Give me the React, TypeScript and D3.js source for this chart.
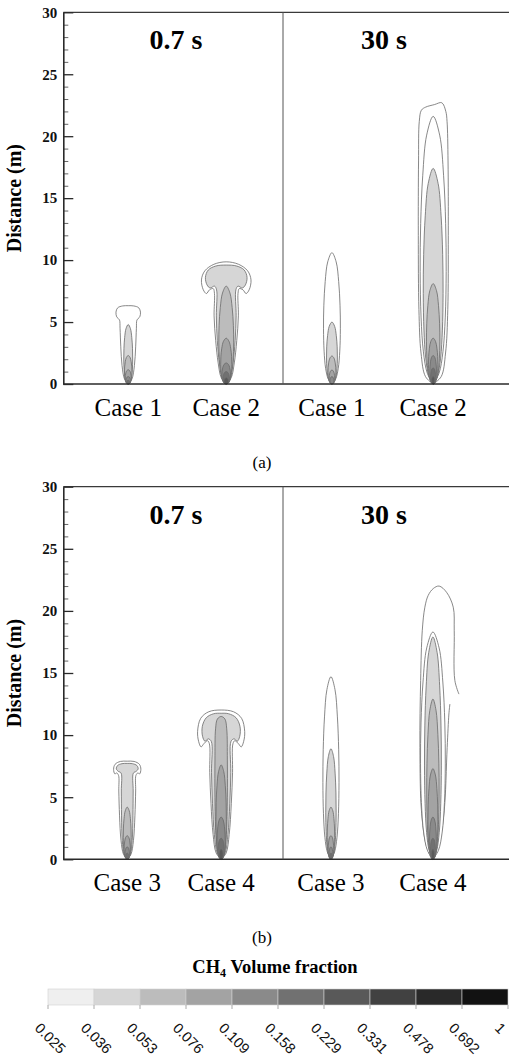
import React, { useRef, useEffect } from 'react';
import * as d3 from 'd3';

// contour levels of the colour bar and their greys
const levels = [0.025, 0.036, 0.053, 0.076, 0.109, 0.158, 0.229, 0.331, 0.478, 0.692, 1];
const levelGrays = ['#efefef', '#d6d6d6', '#bcbcbc', '#a3a3a3', '#8a8a8a', '#717171', '#595959', '#414141', '#292929', '#121212'];

const timeLabels = ['0.7 s', '30 s'];
const panelTags = ['(a)', '(b)'];
const panelCases = [['Case 1', 'Case 2'], ['Case 3', 'Case 4']];
// source location (m from the left edge of each half)
const caseXEarly = [[5.24, 13.15], [5.16, 12.74]];
const caseXLate = [[3.95, 12.12], [3.87, 12.1]];

// normalised shape of an inner contour, [x / halfWidth, y / top]
const coreProfile = [[0, 0], [0.45, 0.04], [0.75, 0.12], [0.93, 0.25], [1, 0.42], [0.96, 0.6], [0.8, 0.78], [0.5, 0.93], [0, 1]];

// mushroom caps at 0.7 s, right half [x m, y m] from source to top
const case1EarlyCap = [[0, 0], [0.3, 0.4], [0.5, 1.5], [0.6, 3], [0.66, 4.5], [0.7, 5.15], [0.82, 5.3], [0.93, 5.42], [0.99, 5.8], [0.85, 6.15], [0.45, 6.3], [0, 6.32]];
const case1EarlyCores = [[4.8, 0.36], [2.3, 0.3], [1.15, 0.24], [0.6, 0.18], [0.3, 0.12]];

const case2EarlyCap = [[0, 0], [0.4, 0.5], [0.65, 1.7], [0.85, 3.5], [0.98, 5.5], [0.95, 7.3], [1.05, 7.7], [1.35, 7.6], [1.6, 7.3], [1.85, 7.6], [2.0, 8.4], [1.73, 9.13], [1.0, 9.66], [0, 9.86]];
const case2EarlyCapInner = [[0, 0], [0.3, 0.5], [0.55, 1.7], [0.72, 3.5], [0.8, 5.5], [0.78, 7.6], [0.95, 7.9], [1.3, 7.75], [1.55, 8.0], [1.68, 8.6], [1.45, 9.2], [0.85, 9.52], [0, 9.6]];
const case2EarlyCores = [[7.9, 0.6], [3.7, 0.45], [1.7, 0.35], [1.0, 0.26], [0.5, 0.18]];

const case3EarlyCap = [[0, 0], [0.3, 0.4], [0.5, 1.5], [0.62, 3.5], [0.68, 5.5], [0.7, 6.75], [0.85, 6.95], [1.0, 6.88], [1.1, 7.25], [0.98, 7.65], [0.55, 7.88], [0, 7.9]];
const case3EarlyCapInner = [[0, 0], [0.25, 0.4], [0.4, 1.5], [0.46, 3.5], [0.48, 5.5], [0.5, 6.95], [0.72, 7.08], [0.88, 7.28], [0.78, 7.55], [0.42, 7.7], [0, 7.72]];
const case3EarlyCores = [[4.2, 0.32], [1.9, 0.25], [1.0, 0.18], [0.5, 0.12]];

const case4EarlyCap = [[0, 0], [0.4, 0.5], [0.65, 2], [0.82, 4.5], [0.92, 7], [0.95, 9.3], [1.1, 9.55], [1.4, 9.3], [1.62, 9.05], [1.82, 9.5], [1.9, 10.3], [1.65, 11.35], [1.0, 11.88], [0, 12.02]];
const case4EarlyCapInner = [[0, 0], [0.32, 0.5], [0.55, 2], [0.7, 4.5], [0.78, 7], [0.8, 9.5], [1.05, 9.7], [1.3, 9.5], [1.5, 9.9], [1.52, 10.7], [1.2, 11.4], [0.6, 11.72], [0, 11.76]];
const case4EarlyColumn = [[0, 0], [0.25, 0.5], [0.42, 2], [0.5, 5], [0.5, 8], [0.45, 10.5], [0.3, 11.3], [0, 11.5]];
const case4EarlyCores = [[7.6, 0.42], [3.4, 0.33], [1.7, 0.25], [0.8, 0.16]];

// 30 s plumes
const case1LateCores = [[10.6, 0.68], [5.0, 0.44], [2.26, 0.32], [1.13, 0.22], [0.6, 0.15]];
const case2LateOuter = [[0, 0], [0.65, 0.6], [1.0, 2.5], [1.18, 6], [1.22, 12], [1.2, 18], [1.12, 21.2], [1.02, 22.0], [0.7, 22.7], [0.1, 22.55], [-0.6, 22.35], [-0.95, 22.1], [-1.12, 21.2], [-1.18, 18], [-1.2, 12], [-1.15, 6], [-0.98, 2.5], [-0.62, 0.6], [0, 0]];
const case2LateCores = [[21.6, 1.05], [17.4, 0.8], [8.1, 0.54], [3.7, 0.38], [2.3, 0.27], [1.3, 0.2], [0.6, 0.13]];
const case3LateCores = [[14.7, 0.65], [8.9, 0.42], [4.2, 0.3], [1.9, 0.22], [1.0, 0.15], [0.5, 0.1]];
const case4LateOuter = [[2.1, 13.3], [1.77, 14.4], [1.72, 18.4], [1.64, 20.3], [1.1, 21.5], [0.5, 22.0], [0.03, 21.8], [-0.38, 21.25], [-0.65, 20.3], [-0.86, 18.4], [-0.99, 14.4], [-1.05, 9.0], [-0.91, 3.7], [-0.5, 1.0], [0, 0], [0.43, 1.0], [0.89, 3.7], [1.15, 9.0], [1.29, 11.7], [1.37, 12.5]];
const case4LateCores = [[18.3, 1.0], [17.9, 0.68], [12.9, 0.5], [7.3, 0.4], [3.4, 0.28], [1.7, 0.2], [0.8, 0.13]];

const mirror = (half) => half.concat(half.slice(0, -1).reverse().map(([x, y]) => [-x, y]));

// outlines take levels 0.., cores start at coreFrom
const plumes = [
    { panel: 0, half: 0, c: 0, outlines: [mirror(case1EarlyCap)], cores: case1EarlyCores, coreFrom: 1 },
    { panel: 0, half: 0, c: 1, outlines: [mirror(case2EarlyCap), mirror(case2EarlyCapInner)], cores: case2EarlyCores, coreFrom: 2 },
    { panel: 0, half: 1, c: 0, outlines: [], cores: case1LateCores, coreFrom: 0 },
    { panel: 0, half: 1, c: 1, outlines: [case2LateOuter], cores: case2LateCores, coreFrom: 0 },
    { panel: 1, half: 0, c: 0, outlines: [mirror(case3EarlyCap), mirror(case3EarlyCapInner)], cores: case3EarlyCores, coreFrom: 2 },
    { panel: 1, half: 0, c: 1, outlines: [mirror(case4EarlyCap), mirror(case4EarlyCapInner), mirror(case4EarlyColumn)], cores: case4EarlyCores, coreFrom: 3 },
    { panel: 1, half: 1, c: 0, outlines: [], cores: case3LateCores, coreFrom: 0 },
    { panel: 1, half: 1, c: 1, outlines: [case4LateOuter], cores: case4LateCores, coreFrom: 0, open: true },
];

const W = 509;
const H = 1062;
const serif = '"Liberation Serif", serif';

const App = () => {
    const ref = useRef(null);

    useEffect(() => {
        const svg = d3.select(ref.current);
        svg.selectAll('*').remove();

        const left = 63.3;
        const divider = 283;
        const right = 515;
        const panelTop = [12.3, 486.7];
        const panelBase = [384, 859.3];
        const pxPerM = (panelBase[0] - panelTop[0]) / 30;

        const line = d3.line().curve(d3.curveCatmullRom.alpha(0.5));

        panelTop.forEach((top, p) => {
            const base = panelBase[p];
            const y = d3.scaleLinear().domain([0, 30]).range([base, top]);
            const halves = [left, divider].map(x0 =>
                d3.scaleLinear().domain([0, 220 / pxPerM]).range([x0, x0 + 220]));
            const g = svg.append('g');

            // plumes
            plumes.filter(d => d.panel === p).forEach(pl => {
                const xs = halves[pl.half];
                const cx = (pl.half === 0 ? caseXEarly : caseXLate)[p][pl.c];
                const toPx = pts => pts.map(([px, py]) => [xs(cx + px), y(py)]);
                const drawn = [];
                pl.outlines.forEach((pts, i) => drawn.push({ pts, level: i, open: pl.open && i === 0 }));
                pl.cores.forEach(([t, w], i) => drawn.push({
                    pts: mirror(coreProfile.map(([fx, fy]) => [fx * w, fy * t])),
                    level: pl.coreFrom + i,
                }));
                drawn.forEach(d => {
                    g.append('path')
                        .attr('d', line(toPx(d.pts)) + (d.open ? '' : 'Z'))
                        .attr('fill', d.level === 0 ? '#ffffff' : levelGrays[d.level])
                        .attr('stroke', '#6a6a6a')
                        .attr('stroke-width', 0.8);
                });
            });

            // frame
            g.append('line').attr('x1', left).attr('x2', right).attr('y1', top).attr('y2', top)
                .attr('stroke', '#3a3a3a').attr('stroke-width', 1.3);
            g.append('line').attr('x1', left).attr('x2', right).attr('y1', base).attr('y2', base)
                .attr('stroke', '#2a2a2a').attr('stroke-width', 1.6);
            g.append('line').attr('x1', divider).attr('x2', divider).attr('y1', top).attr('y2', base)
                .attr('stroke', '#555').attr('stroke-width', 1);

            // y axis, ticks pointing inwards
            const minor = g.append('g').attr('transform', `translate(${left},0)`)
                .call(d3.axisLeft(y).tickValues(y.ticks(30).filter(v => v % 5 !== 0)).tickSize(-5).tickFormat(() => ''));
            minor.select('.domain').remove();
            minor.selectAll('line').attr('stroke', '#666');
            const axis = g.append('g').attr('transform', `translate(${left},0)`)
                .call(d3.axisLeft(y).tickValues(y.ticks(6)).tickSize(-10).tickSizeOuter(0).tickPadding(6));
            axis.select('.domain').attr('stroke', '#2a2a2a').attr('stroke-width', 1.6);
            axis.selectAll('line').attr('stroke', '#2a2a2a').attr('stroke-width', 1.3);
            axis.selectAll('text')
                .attr('font-family', serif).attr('font-size', 15).attr('font-weight', 'bold').attr('fill', '#111');

            g.append('text')
                .attr('transform', `translate(21,${(top + base) / 2}) rotate(-90)`)
                .attr('text-anchor', 'middle')
                .attr('font-family', serif).attr('font-size', 20).attr('font-weight', 'bold')
                .text('Distance (m)');

            // time titles
            [176, 384].forEach((tx, i) => {
                g.append('text').attr('x', tx).attr('y', top + 37)
                    .attr('text-anchor', 'middle')
                    .attr('font-family', serif).attr('font-size', 28).attr('font-weight', 'bold')
                    .text(timeLabels[i]);
            });

            // case labels under each plume
            [0, 1].forEach(h => {
                const xs = halves[h];
                const cxs = (h === 0 ? caseXEarly : caseXLate)[p];
                panelCases[p].forEach((name, c) => {
                    g.append('text').attr('x', xs(cxs[c])).attr('y', base + 32)
                        .attr('text-anchor', 'middle')
                        .attr('font-family', serif).attr('font-size', 25)
                        .text(name);
                });
            });

            g.append('text').attr('x', 262).attr('y', base + 84)
                .attr('text-anchor', 'middle')
                .attr('font-family', serif).attr('font-size', 17)
                .text(panelTags[p]);
        });

        // colour bar
        const barTop = 989;
        const barH = 16;
        const xb = d3.scaleLinear().domain([0, levels.length - 1]).range([48, 508]);
        const bar = svg.append('g');
        bar.selectAll('rect')
            .data(levelGrays)
            .enter()
            .append('rect')
            .attr('x', (d, i) => xb(i))
            .attr('y', barTop)
            .attr('width', xb(1) - xb(0))
            .attr('height', barH)
            .attr('fill', d => d)
            .attr('stroke', '#cfcfcf')
            .attr('stroke-width', 0.6);
        bar.selectAll('line')
            .data(levels)
            .enter()
            .append('line')
            .attr('x1', (d, i) => xb(i))
            .attr('x2', (d, i) => xb(i))
            .attr('y1', barTop + barH)
            .attr('y2', barTop + barH + 4)
            .attr('stroke', '#aaa');
        bar.selectAll('text.lab')
            .data(levels)
            .enter()
            .append('text')
            .attr('class', 'lab')
            .attr('transform', (d, i) => `translate(${xb(i) - 14},${barTop + barH + 24}) rotate(45)`)
            .attr('font-family', '"Liberation Sans", Arial, sans-serif')
            .attr('font-size', 14.5)
            .attr('fill', '#111')
            .text(d => String(d));

        const title = bar.append('text').attr('x', 275).attr('y', 973)
            .attr('text-anchor', 'middle')
            .attr('font-family', serif).attr('font-size', 18.5).attr('font-weight', 'bold');
        title.append('tspan').text('CH');
        title.append('tspan').attr('dy', 4).attr('font-size', 12).text('4');
        title.append('tspan').attr('dy', -4).text(' Volume fraction');
    }, []);

    return (
        <div style={{ position: 'absolute', left: 0, top: 0, width: W, height: H, background: '#fff' }}>
            <svg ref={ref} width={W} height={H} style={{ display: 'block' }}></svg>
        </div>
    );
};

export default App;
